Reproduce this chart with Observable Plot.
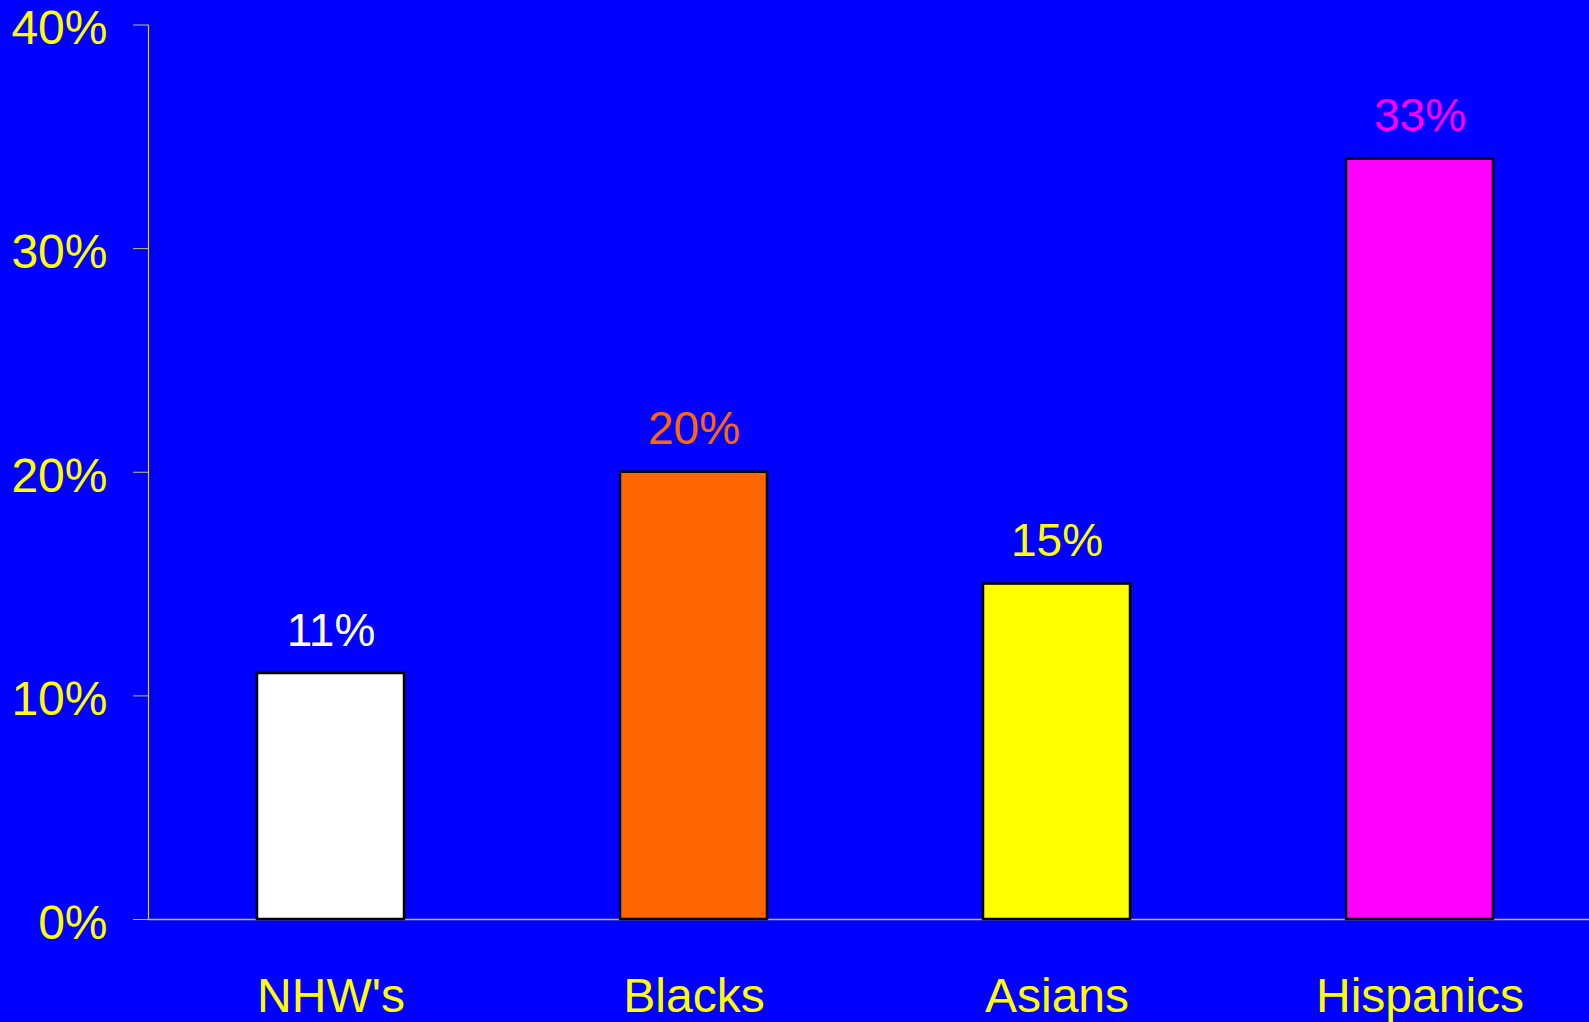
<!DOCTYPE html>
<html>
<head>
<meta charset="utf-8">
<script src="https://cdn.jsdelivr.net/npm/d3@7"></script>
<script src="https://cdn.jsdelivr.net/npm/@observablehq/plot@0.6"></script>
<style>
  html, body { margin: 0; padding: 0; background: #0000ff; overflow: hidden; }
</style>
</head>
<body>
<div id="chart"></div>
<script>
const categories = ["NHW's", "Blacks", "Asians", "Hispanics"];
const values = [11, 20, 15, 34];
const valueLabels = ["11%", "20%", "15%", "33%"];
const barColors = ["#ffffff", "#ff6600", "#ffff00", "#ff00ff"];
const yTicks = [0, 10, 20, 30, 40];

const data = categories.map((c, i) => ({cat: c, value: values[i], label: valueLabels[i], color: barColors[i]}));
const axisColor = "#c0c080";
const textColor = "#ffff00";

const chart = Plot.plot({
  width: 1589,
  height: 1022,
  marginLeft: 148,
  marginRight: 0,
  marginTop: 24.5,
  marginBottom: 103,
  style: {background: "#0000ff", color: textColor, fontSize: "48px", fontFamily: "'Liberation Sans', Arial, sans-serif"},
  color: {type: "identity"},
  x: {domain: categories, range: [148, 1602], paddingInner: 0.596, paddingOuter: 0.298, label: null},
  y: {domain: [0, 40], label: null},
  marks: [
    Plot.frame({anchor: "left", stroke: axisColor, strokeWidth: 1.2}),
    Plot.ruleY([0], {stroke: axisColor, strokeWidth: 1.5}),
    Plot.axisY({ticks: yTicks, tickFormat: null, tickSize: 15, stroke: axisColor, fill: "none", label: null}),
    Plot.axisY({ticks: yTicks, tickFormat: d => d + "%", tickSize: 0, tickPadding: 41, fill: textColor, dy: 4, fontSize: 48, label: null}),
    Plot.axisX({tickSize: 0, tickPadding: 58, fill: textColor, fontSize: 48, label: null}),
    Plot.barY(data, {x: "cat", y: "value", fill: "color", stroke: "#000000", strokeWidth: 2.5}),
    Plot.text(data, {x: "cat", y: "value", text: "label", fill: "color", lineAnchor: "bottom", dy: -28, fontSize: 46})
  ]
});
document.getElementById("chart").appendChild(chart);
</script>
</body>
</html>
